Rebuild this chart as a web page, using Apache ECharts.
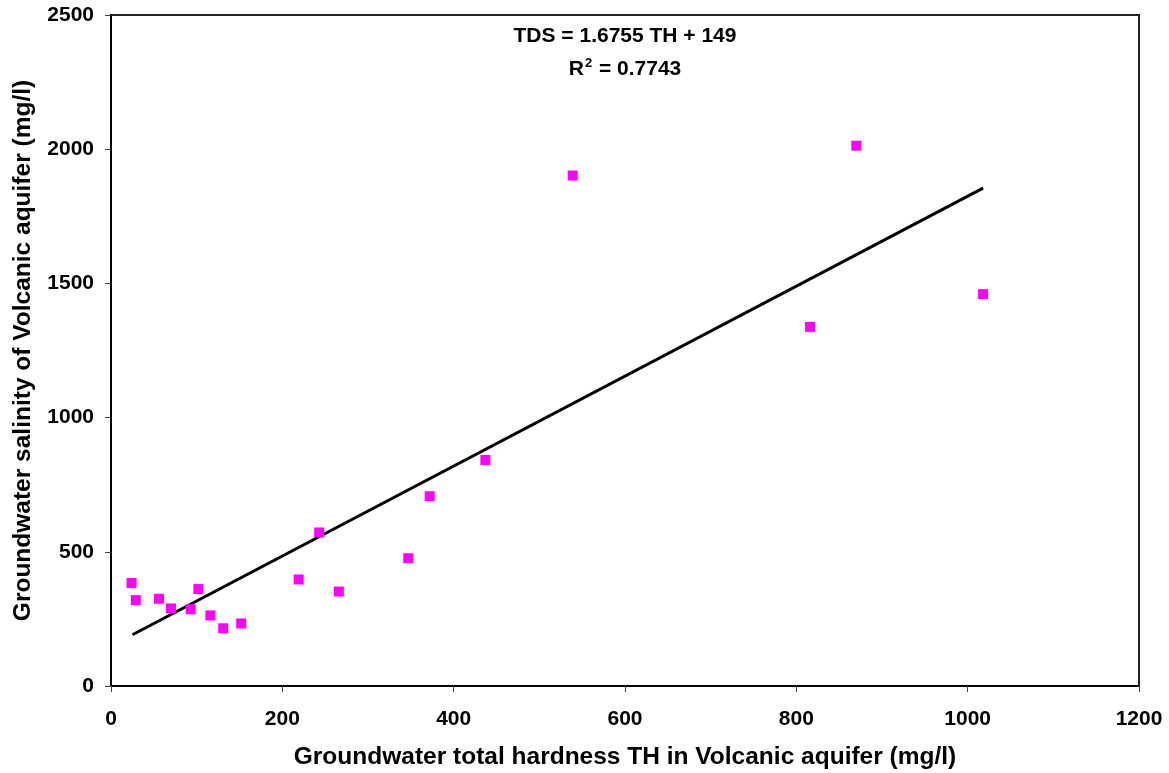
<!DOCTYPE html>
<html>
<head>
<meta charset="utf-8">
<script src="https://cdn.jsdelivr.net/npm/echarts@6/dist/echarts.min.js"></script>
<style>html,body{margin:0;padding:0;background:#fff;}#c{width:1169px;height:773px;}</style>
</head>
<body>
<div id="c"></div>
<script>
// Groundwater total hardness TH (mg/l)
const thValues = [24, 29, 56, 70, 93, 102, 116, 131, 152, 219, 243, 266, 347, 372, 437, 539, 816, 870, 1018];
// Groundwater salinity TDS (mg/l)
const tdsValues = [384, 320, 325, 289, 286, 361, 263, 215, 233, 397, 572, 352, 476, 707, 842, 1902, 1338, 2013, 1460];
// Trend line endpoints
const trendX = [25, 1018];
const trendY = [191, 1855];
const xTicks = [0, 200, 400, 600, 800, 1000, 1200];
const yTicks = [0, 500, 1000, 1500, 2000, 2500];
const xTitle = 'Groundwater total hardness TH in Volcanic aquifer (mg/l)';
const yTitle = 'Groundwater salinity of Volcanic aquifer (mg/l)';
const eqLine1 = 'TDS = 1.6755 TH + 149';
const eqR2 = '0.7743';

const font = '"Liberation Sans", Arial, sans-serif';
const chart = echarts.init(document.getElementById('c'), null, {renderer: 'canvas'});
const scatterData = thValues.map((x, i) => [x, tdsValues[i]]);
const trendData = trendX.map((x, i) => [x, trendY[i]]);

chart.setOption({
  animation: false,
  backgroundColor: '#ffffff',
  title: {
    text: eqLine1 + '\n{r|R}{sup|2}{r| = ' + eqR2 + '}',
    left: 620,
    top: 15,
    textAlign: 'center',
    textStyle: {
      fontFamily: font, fontWeight: 'bold', fontSize: 21, color: '#000', lineHeight: 33,
      rich: {
        r: {fontFamily: font, fontWeight: 'bold', fontSize: 21, color: '#000', lineHeight: 33},
        sup: {fontFamily: font, fontWeight: 'bold', fontSize: 13, color: '#000', lineHeight: 33, padding: [0, 1, 13, 1]}
      }
    }
  },
  grid: {left: 111, top: 15, right: 30, bottom: 87, outerBoundsMode: 'none', containLabel: false, show: true, borderColor: '#222', borderWidth: 2, backgroundColor: 'transparent'},
  xAxis: {
    type: 'value', min: xTicks[0], max: xTicks[xTicks.length - 1], interval: xTicks[1] - xTicks[0],
    name: xTitle, nameLocation: 'middle', nameGap: 59,
    nameTextStyle: {fontFamily: font, fontWeight: 'bold', fontSize: 24.5, color: '#000'},
    axisLine: {show: true, lineStyle: {color: '#000', width: 2}},
    axisTick: {show: true, length: 6, lineStyle: {color: '#444', width: 1}},
    axisLabel: {fontFamily: font, fontWeight: 'bold', fontSize: 21, color: '#000', margin: 23, formatter: v => String(v)},
    splitLine: {show: false}
  },
  yAxis: {
    type: 'value', min: yTicks[0], max: yTicks[yTicks.length - 1], interval: yTicks[1] - yTicks[0],
    name: yTitle, nameLocation: 'middle', nameGap: 75,
    nameTextStyle: {fontFamily: font, fontWeight: 'bold', fontSize: 24.5, color: '#000'},
    axisLine: {show: true, lineStyle: {color: '#000', width: 2}},
    axisTick: {show: true, length: 6, lineStyle: {color: '#444', width: 1}},
    axisLabel: {fontFamily: font, fontWeight: 'bold', fontSize: 21, color: '#000', margin: 17, formatter: v => String(v)},
    splitLine: {show: false}
  },
  series: [
    {
      type: 'line', data: trendData, symbol: 'none', silent: true,
      lineStyle: {color: '#000', width: 3}, z: 2
    },
    {
      type: 'scatter', data: scatterData, symbol: 'rect', symbolSize: 10,
      itemStyle: {color: '#ff00ff', opacity: 1}, z: 3
    }
  ]
});
</script>
</body>
</html>
